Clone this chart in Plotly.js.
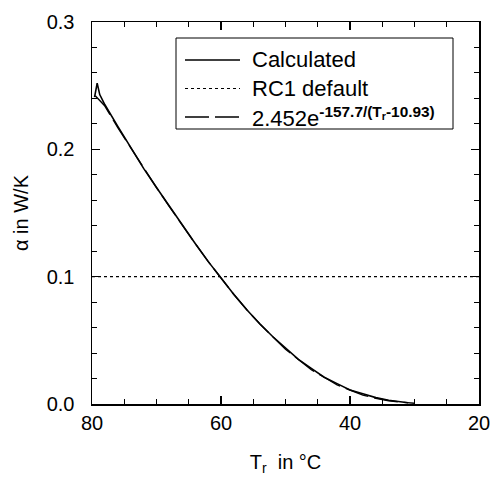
<!DOCTYPE html>
<html>
<head>
<meta charset="utf-8">
<script src="https://cdn.plot.ly/plotly-3.0.1.min.js"></script>
<style>html,body{margin:0;padding:0;background:#fff;}#chart{width:493px;height:479px;}</style>
</head>
<body>
<div id="chart"></div>
<script>
// Calculated curve
const T_calc = [79.6, 79.2, 78.8, 78, 76, 74, 72, 70, 68, 66, 64, 62, 60, 58, 56, 54, 52, 50, 48, 46, 44, 42, 40, 38, 36, 34, 32, 31];
const alpha_calc = [0.241, 0.252, 0.243, 0.235, 0.218, 0.201, 0.185, 0.170, 0.155, 0.140, 0.126, 0.112, 0.099, 0.086, 0.074, 0.063, 0.053, 0.044, 0.035, 0.028, 0.021, 0.016, 0.011, 0.008, 0.005, 0.003, 0.0015, 0.001];
// RC1 default
const T_rc1 = [80, 20];
const alpha_rc1 = [0.1, 0.1];
// Fit curve 2.452e^(-157.7/(Tr-10.93))
const T_fit = [79.5, 78, 76, 74, 72, 70, 68, 66, 64, 62, 60, 58, 56, 54, 52, 50, 48, 46, 44, 42, 40, 38, 36, 34, 32, 30];
const alpha_fit = [0.242, 0.234, 0.217, 0.201, 0.185, 0.170, 0.155, 0.140, 0.126, 0.112, 0.099, 0.086, 0.074, 0.063, 0.053, 0.043, 0.035, 0.027, 0.021, 0.015, 0.011, 0.007, 0.0045, 0.0026, 0.0014, 0.0006];

const names = ['Calculated', 'RC1 default', '2.452e<sup><b>-157.7/(T<sub>r</sub>-10.93)</b></sup>'];
const F = 'Liberation Sans, Arial, sans-serif';

const styles = [
  {color: '#000', width: 1.6},
  {color: '#000', width: 1.2, dash: 'dot'},
  {color: '#000', width: 1.4, dash: '24px,6px'}
];

const traces = [
  {x: T_calc, y: alpha_calc, name: names[0], mode: 'lines', line: styles[0]},
  {x: T_rc1, y: alpha_rc1, name: names[1], mode: 'lines', line: styles[1]},
  {x: T_fit, y: alpha_fit, name: names[2], mode: 'lines', line: styles[2]}
];

// plot area geometry (px) for manual legend placement
const M = {l: 92, r: 14, t: 22, b: 75};
const W = 493, H = 479;
const PW = W - M.l - M.r, PH = H - M.t - M.b;
const px = v => (v - M.l) / PW;
const py = v => 1 - (v - M.t) / PH;

const legRows = [60, 88.5, 117];
const shapes = [
  {type: 'rect', xref: 'paper', yref: 'paper', x0: px(176), x1: px(453), y0: py(38), y1: py(129),
   line: {color: '#000', width: 1}, fillcolor: '#fff', layer: 'above'}
];
const annotations = [];
legRows.forEach((yy, i) => {
  shapes.push({type: 'line', xref: 'paper', yref: 'paper', x0: px(185), x1: px(240), y0: py(yy), y1: py(yy),
    line: styles[i], layer: 'above'});
  annotations.push({xref: 'paper', yref: 'paper', x: px(250), y: py(yy), xanchor: 'left', yanchor: 'middle',
    text: names[i], showarrow: false, font: {family: F, size: 22, color: '#000'}});
});

const axisCommon = {
  showline: true, linecolor: '#000', linewidth: 1.5, mirror: 'ticks',
  ticks: 'inside', ticklen: 8, tickwidth: 1.2, tickcolor: '#000',
  showgrid: false, zeroline: false,
  tickfont: {family: F, size: 20, color: '#000'}
};

const layout = {
  width: W, height: H,
  margin: M,
  paper_bgcolor: '#fff', plot_bgcolor: '#fff',
  showlegend: false,
  font: {family: F, color: '#000'},
  shapes: shapes,
  annotations: annotations,
  xaxis: Object.assign({}, axisCommon, {
    range: [80, 20], tickvals: [80, 60, 40, 20], ticktext: ['80', '60', '40', '20'],
    minor: {dtick: 5, tick0: 0, ticks: 'inside', ticklen: 5, tickcolor: '#000', tickwidth: 1},
    ticklabelstandoff: 0,
    title: {text: 'T<sub>r</sub>  in °C', font: {family: F, size: 20, color: '#000'}, standoff: 22}
  }),
  yaxis: Object.assign({}, axisCommon, {
    range: [0, 0.3], tickvals: [0, 0.1, 0.2, 0.3], ticktext: ['0.0', '0.1', '0.2', '0.3'],
    minor: {dtick: 0.02, tick0: 0, ticks: 'inside', ticklen: 5, tickcolor: '#000', tickwidth: 1},
    ticklabelstandoff: 12,
    title: {text: 'α in W/K', font: {family: F, size: 20, color: '#000'}, standoff: 12}
  })
};

Plotly.newPlot('chart', traces, layout, {displayModeBar: false, staticPlot: true});
</script>
</body>
</html>
